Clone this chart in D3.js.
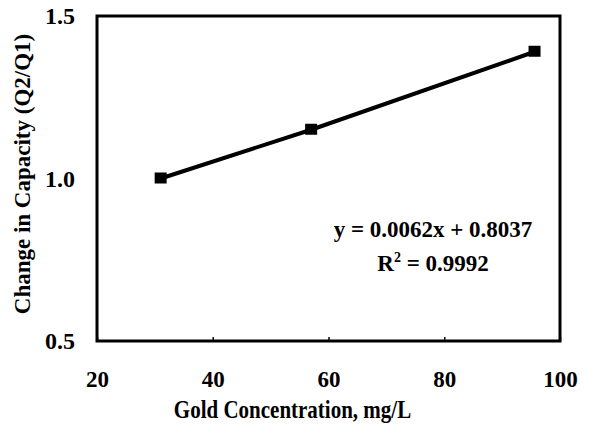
<!DOCTYPE html>
<html lang="en">
<head>
  <meta charset="UTF-8">
  <title>Change in Capacity vs Gold Concentration</title>
  <script src="https://d3js.org/d3.v7.min.js"></script>
  <style>
    body { margin: 0; background: #fff; }
    text { font-family: "Liberation Serif", "Times New Roman", serif; font-weight: bold; fill: #000; }
  </style>
</head>
<body>
  <svg id="chart"></svg>

  <script>
    // Data
    const goldConc = [31, 57, 95.6];
    const capacityRatio = [1.0, 1.15, 1.39];
    const xTicks = [20, 40, 60, 80, 100];
    const yTicks = [0.5, 1.0, 1.5];
    const fitLabels = ["y = 0.0062x + 0.8037", "R", "2", " = 0.9992"];

    const W = 589, H = 426;
    const margin = { top: 16, right: 29, bottom: 85, left: 97 };
    const width = W - margin.left - margin.right;
    const height = H - margin.top - margin.bottom;

    const svg = d3.select("#chart").attr("width", W).attr("height", H)
      .append("g")
      .attr("transform", `translate(${margin.left},${margin.top})`);

    const x = d3.scaleLinear().domain([20, 100]).range([0, width]);
    const y = d3.scaleLinear().domain([0.5, 1.5]).range([height, 0]);

    // Frame
    svg.append("rect")
       .attr("width", width).attr("height", height)
       .attr("fill", "none").attr("stroke", "#000").attr("stroke-width", 3);

    // X axis (small inward ticks)
    const xAxis = svg.append("g")
       .attr("transform", `translate(0,${height})`)
       .call(d3.axisBottom(x).tickValues(xTicks).tickSizeInner(-4).tickSizeOuter(0).tickPadding(30).tickFormat(d3.format("d")));
    xAxis.select(".domain").remove();
    xAxis.selectAll("line").attr("stroke-width", 1.5);
    xAxis.selectAll("text").style("font-size", "23px");

    // Y axis
    const yAxis = svg.append("g")
       .call(d3.axisLeft(y).tickValues(yTicks).tickSizeInner(0).tickSizeOuter(0).tickPadding(22).tickFormat(d3.format(".1f")));
    yAxis.select(".domain").remove();
    yAxis.selectAll("text").style("font-size", "24px");

    // Line
    const pts = goldConc.map((g, i) => [g, capacityRatio[i]]);
    svg.append("path")
       .datum(pts)
       .attr("fill", "none").attr("stroke", "#000").attr("stroke-width", 4)
       .attr("d", d3.line().x(d => x(d[0])).y(d => y(d[1])));

    // Markers
    svg.selectAll("rect.pt")
       .data(pts)
       .enter().append("rect").attr("class", "pt")
       .attr("x", d => x(d[0]) - 6).attr("y", d => y(d[1]) - 6)
       .attr("width", 12).attr("height", 11)
       .attr("fill", "#000");

    // Fit annotation
    svg.append("text")
       .attr("x", 336).attr("y", 221)
       .attr("text-anchor", "middle")
       .style("font-size", "23px")
       .text(fitLabels[0]);
    const r2 = svg.append("text")
       .attr("x", 336).attr("y", 255)
       .attr("text-anchor", "middle")
       .style("font-size", "23px");
    r2.append("tspan").text(fitLabels[1]);
    r2.append("tspan").attr("dy", -9).style("font-size", "14px").text(fitLabels[2]);
    r2.append("tspan").attr("dy", 9).text(fitLabels[3]);

    // Axis titles
    svg.append("text")
       .attr("transform", `translate(${width / 2 - 36},${height + 77}) scale(1,1.2)`)
       .attr("text-anchor", "middle")
       .style("font-size", "21px")
       .text("Gold Concentration, mg/L");

    svg.append("text")
       .attr("transform", "rotate(-90)")
       .attr("x", -158).attr("y", -67)
       .attr("text-anchor", "middle")
       .style("font-size", "23px")
       .text("Change in Capacity (Q2/Q1)");
  </script>
</body>
</html>
